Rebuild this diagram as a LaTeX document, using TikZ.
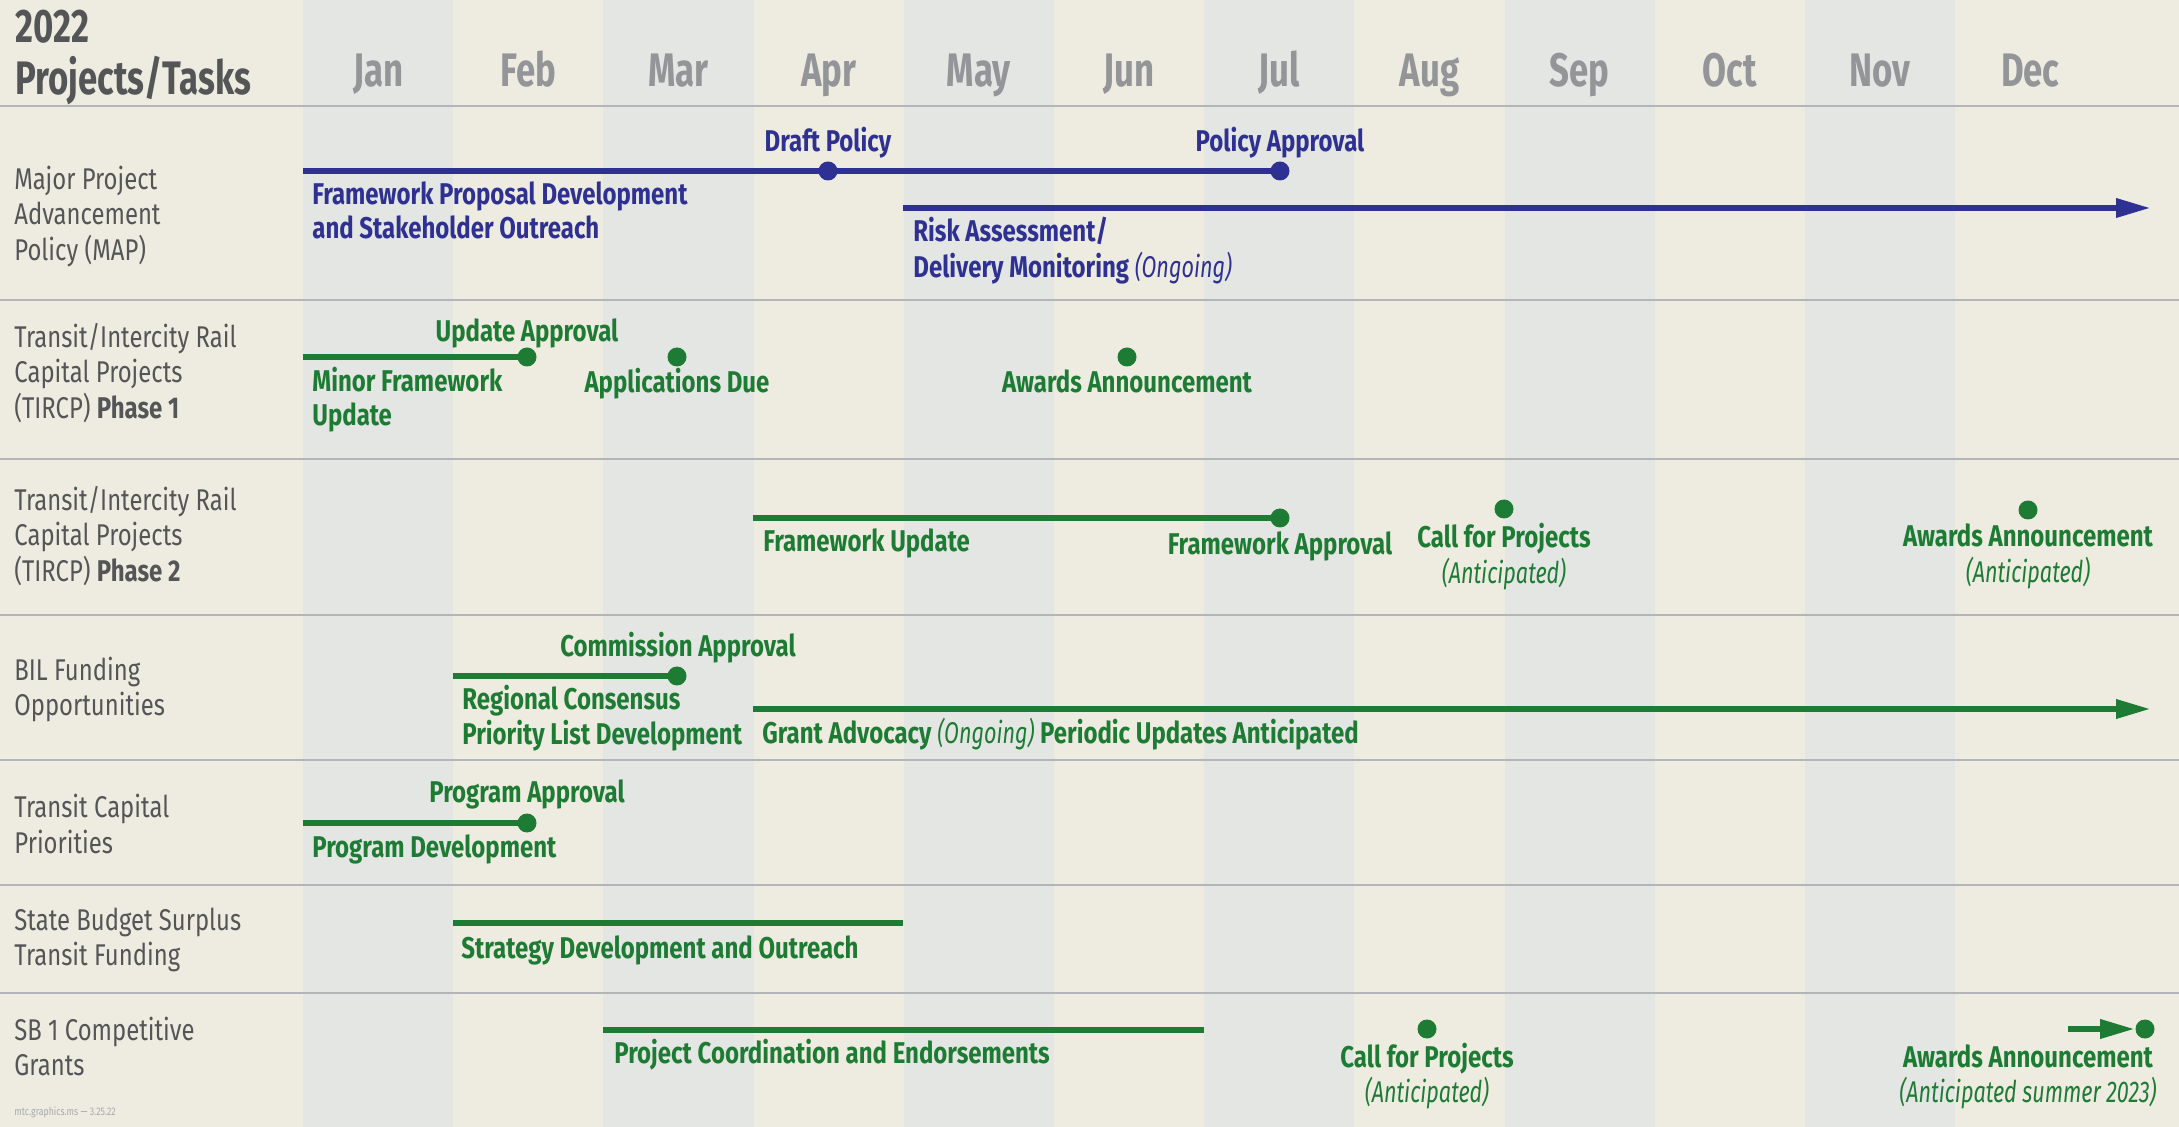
\documentclass[tikz,border=0pt]{standalone}
\usepackage{fontspec}
\setmainfont{Fira Sans}[FakeStretch=0.795]
\newfontfamily\semi{Fira Sans}[FakeStretch=0.80]
\newfontfamily\headf{Fira Sans}[FakeStretch=0.74]
\newfontfamily\itf{Fira Sans}[FakeStretch=0.72]
\usetikzlibrary{arrows.meta}
\definecolor{bgbeige}{HTML}{EEECE1}
\definecolor{bggray}{HTML}{E4E6E4}
\definecolor{sepline}{HTML}{B4B5B8}
\definecolor{labgray}{HTML}{545557}
\definecolor{monthgray}{HTML}{939598}
\definecolor{mapblue}{HTML}{2E3192}
\definecolor{tgreen}{HTML}{1E7B34}
\definecolor{footgray}{HTML}{A7A9AC}
\newcommand{\tl}[1]{\begin{tabular}[t]{@{}l@{}}#1\end{tabular}}
\newcommand{\tc}[1]{\begin{tabular}[t]{@{}c@{}}#1\end{tabular}}
\newcommand{\ital}[1]{{\itf\mdseries\itshape #1}}
\tikzset{
 rowlab/.style={anchor=base west, inner sep=0, text=labgray, font=\fontsize{15}{17.5}\selectfont},
 tlab/.style={inner sep=0, font=\semi\bfseries\fontsize{15}{17}\selectfont},
 blab/.style={tlab, text=mapblue},
 glab/.style={tlab, text=tgreen},
 mdot/.style={circle, inner sep=0, minimum size=9.5pt},
 bdot/.style={mdot, fill=mapblue},
 gdot/.style={mdot, fill=tgreen},
 bar/.style={line width=3.2pt},
 bbar/.style={bar, draw=mapblue},
 gbar/.style={bar, draw=tgreen},
 tip/.style={-{Triangle[length=17.5pt,width=9pt]}},
 sepl/.style={draw=sepline, line width=1pt},
 month/.style={anchor=base, inner sep=0, text=monthgray, font=\headf\bfseries\fontsize{23.5}{22.5}\selectfont},
}
\begin{document}
\begin{tikzpicture}[x=0.5pt,y=-0.5pt]
\path[use as bounding box] (0,0) rectangle (2179,1127);
\fill[bgbeige] (0,0) rectangle (2179,1127);
\foreach \m in {0,2,...,10} \fill[bggray] ({303+150.2*\m},0) rectangle ({453.2+150.2*\m},1127);
\foreach \yy in {106,300,459,615,760,885,993} \draw[sepl] (0,\yy) -- (2179,\yy);

% header
\node[anchor=base west, inner sep=0, text=labgray, font=\headf\bfseries\fontsize{23.5}{22.5}\selectfont] (title) at (15,43) {\tl{2022\\Projects/Tasks}};
\foreach \mn [count=\i from 0] in {Jan,Feb,Mar,Apr,May,Jun,Jul,Aug,Sep,Oct,Nov,Dec}
  \node[month] (m\i) at ({378.1+150.2*\i},87) {\mn};

% row labels
\node[rowlab] (r1) at (14,190) {\tl{Major Project\\Advancement\\Policy (MAP)}};
\node[rowlab] (r2) at (14,348) {\tl{Transit/Intercity Rail\\Capital Projects\\(TIRCP) {\semi\bfseries Phase 1}}};
\node[rowlab] (r3) at (14,511) {\tl{Transit/Intercity Rail\\Capital Projects\\(TIRCP) {\semi\bfseries Phase 2}}};
\node[rowlab] (r4) at (14,681) {\tl{BIL Funding\\Opportunities}};
\node[rowlab] (r5) at (14,818) {\tl{Transit Capital\\Priorities}};
\node[rowlab] (r6) at (14,930) {\tl{State Budget Surplus\\Transit Funding}};
\node[rowlab] (r7) at (14,1040) {\tl{SB 1 Competitive\\Grants}};
\node[anchor=base west, inner sep=0, text=footgray, font=\fontsize{5.5}{6}\selectfont] (foot) at (14,1115) {mtc.graphics.ms — 3.25.22};

% ---- Row 1: MAP
\coordinate (mapS) at (303,171);
\coordinate (riskS) at (903,208);
\coordinate (riskE) at (2151,208);
\draw[bbar] (mapS) -- (1280,171);
\draw[bbar, tip] (riskS) -- (riskE);
\node[bdot] (draft) at (828,171) {};
\node[bdot] (papp) at (1280,171) {};
\node[blab, anchor=base] (draftL) at (828,152) {Draft Policy};
\node[blab, anchor=base] (pappL) at (1280,152) {Policy Approval};
\node[blab, anchor=base west] (fpdL) at (312,205) {\tl{Framework Proposal Development\\and Stakeholder Outreach}};
\node[blab, anchor=base west] (riskL) at (913,242) {\tl{Risk Assessment/\\Delivery Monitoring \ital{(Ongoing)}}};

% ---- Row 2: TIRCP Phase 1
\coordinate (t1S) at (303,357);
\draw[gbar] (t1S) -- (527,357);
\node[gdot] (uapp) at (527,357) {};
\node[gdot] (appdue) at (677,357) {};
\node[gdot] (awd1) at (1127,357) {};
\node[glab, anchor=base] (uappL) at (527,342) {Update Approval};
\node[glab, anchor=base west] (mfuL) at (312,392) {\tl{Minor Framework\\Update}};
\node[glab, anchor=base] (appdueL) at (677,393) {Applications Due};
\node[glab, anchor=base] (awd1L) at (1127,393) {Awards Announcement};

% ---- Row 3: TIRCP Phase 2
\coordinate (t2S) at (753,518);
\draw[gbar] (t2S) -- (1280,518);
\node[gdot] (fapp) at (1280,518) {};
\node[gdot] (cfp2) at (1504,509) {};
\node[gdot] (awd2) at (2028,510) {};
\node[glab, anchor=base west] (fuL) at (763,552) {Framework Update};
\node[glab, anchor=base] (faL) at (1280,555) {Framework Approval};
\node[glab, anchor=base] (cfp2L) at (1504,548) {\tc{Call for Projects\\\ital{(Anticipated)}}};
\node[glab, anchor=base] (awd2L) at (2028,547) {\tc{Awards Announcement\\\ital{(Anticipated)}}};

% ---- Row 4: BIL
\coordinate (b1S) at (453,676);
\coordinate (b2S) at (753,709);
\coordinate (b2E) at (2151,709);
\draw[gbar] (b1S) -- (677,676);
\draw[gbar, tip] (b2S) -- (b2E);
\node[gdot] (capp) at (677,676) {};
\node[glab, anchor=base] (caL) at (678,657) {Commission Approval};
\node[glab, anchor=base west] (rcL) at (462,710) {\tl{Regional Consensus\\Priority List Development}};
\node[glab, anchor=base west] (gaL) at (762,744) {Grant Advocacy \ital{(Ongoing)} Periodic Updates Anticipated};

% ---- Row 5: Transit Capital Priorities
\coordinate (tcS) at (303,823);
\draw[gbar] (tcS) -- (527,823);
\node[gdot] (papp5) at (527,823) {};
\node[glab, anchor=base] (paL) at (527,803) {Program Approval};
\node[glab, anchor=base west] (pdL) at (312,857) {Program Development};

% ---- Row 6: State Budget Surplus
\coordinate (sbS) at (453,923);
\coordinate (sbE) at (903,923);
\draw[gbar] (sbS) -- (sbE);
\node[glab, anchor=base west] (sdL) at (461,958) {Strategy Development and Outreach};

% ---- Row 7: SB 1
\coordinate (s1S) at (603,1030);
\coordinate (s1E) at (1204,1030);
\coordinate (a7S) at (2068,1029);
\draw[gbar] (s1S) -- (s1E);
\node[gdot] (cfp7) at (1427,1029) {};
\node[gdot] (awd7) at (2145,1029) {};
\draw[gbar, tip] (a7S) -- (awd7.west);
\node[glab, anchor=base west] (pcL) at (614,1063) {Project Coordination and Endorsements};
\node[glab, anchor=base] (cfp7L) at (1427,1067) {\tc{Call for Projects\\\ital{(Anticipated)}}};
\node[glab, anchor=base] (awd7L) at (2028,1067) {\tc{Awards Announcement\\\ital{(Anticipated summer 2023)}}};
\end{tikzpicture}
\end{document}
